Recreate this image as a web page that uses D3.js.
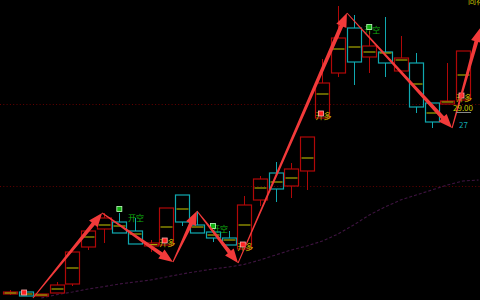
<!DOCTYPE html>
<meta charset="utf-8">
<style>
  body { margin: 0; background: #000; }
  svg { display: block; }
  .lbl { font-family: "Noto Sans CJK SC", sans-serif; font-size: 8px; }
</style>
<body>
<div id="chart"></div>
<script src="https://d3js.org/d3.v7.min.js"></script>
<script>
// candle data (one per bar, left to right)
var candleOpen  = [18.5, 18.6, 18.4, 18.55, 19.0, 20.85, 21.75, 22.1, 21.65, 20.9, 20.95, 23.45, 21.95, 21.6, 21.3,
                   20.75, 23.2, 24.55, 23.9, 24.65, 27.3, 29.55, 31.8, 30.35, 30.6, 29.65, 30.05, 28.05, 28.0, 28.2];
var candleClose = [18.6, 18.4, 18.5, 18.95, 20.6, 21.65, 22.3, 21.55, 21.0, 21.05, 22.8, 22.1, 21.55, 21.3, 20.95,
                   22.95, 24.25, 23.75, 24.75, 26.35, 29.05, 31.3, 30.1, 30.9, 30.05, 30.3, 27.85, 27.1, 28.15, 30.65];
var candleHigh  = [18.7, 18.6, 18.5, 19.1, 20.6, 21.65, 22.55, 22.55, 22.3, 21.2, 22.8, 23.45, 22.65, 21.7, 21.65,
                   23.4, 24.4, 25.1, 25.05, 26.35, 30.25, 32.9, 32.45, 31.65, 32.35, 31.4, 30.55, 28.05, 30.05, 30.65];
var candleLow   = [18.45, 18.4, 18.4, 18.55, 18.9, 20.7, 21.05, 21.55, 21.0, 20.6, 20.95, 21.9, 21.55, 21.1, 20.95,
                   20.75, 22.9, 23.1, 23.3, 23.7, 27.3, 29.35, 28.95, 29.55, 29.35, 29.65, 27.55, 26.8, 28.0, 28.2];
var candleMid   = [18.55, 18.5, 18.45, 18.75, 19.8, 21.35, 21.95, 21.9, 21.5, 20.97, 21.85, 22.75, 21.85, 21.45, 21.2,
                   21.95, 23.8, 24.1, 24.3, 25.3, 28.5, 30.75, 30.85, 30.6, 30.55, 30.2, 29.0, 27.55, 28.1, 29.45];

// moving average, starts at bar 2 (last point runs past the final bar)
var maStart = 2;
var maValues = [18.3, 18.47, 18.6, 18.75, 18.87, 19.0, 19.1, 19.2, 19.35, 19.5, 19.63, 19.75, 19.85, 19.98,
                20.2, 20.45, 20.7, 20.9, 21.15, 21.5, 21.95, 22.45, 22.85, 23.2, 23.45, 23.7, 23.95, 24.15, 24.2];

// zigzag pivots (bar index, price)
var pivotIdx   = [1.47, 5.9, 10.43, 11.97, 14.6, 21.57, 28.3, 30.1];
var pivotPrice = [18.3, 22.55, 20.1, 22.65, 20.05, 32.55, 26.8, 31.8];

// signals
var longText  = [10, 15, 20, 29];   // 开多
var longMark  = [1, 10, 15, 20, 29];
var shortMark = [7, 13, 23];        // 开空 dots
var shortText = [8, 13, 23];

var gridLevels = [28.0, 23.9];

var width = 480, height = 300;

var svg = d3.select("#chart").append("svg")
    .attr("width", width)
    .attr("height", height);

svg.append("rect").attr("width", width).attr("height", height).attr("fill", "#000");

var x = d3.scaleLinear().domain([0, 29]).range([10, 463]);
var y = d3.scaleLinear().domain([18.2, 33.2]).range([300, 0]);
var bw = 14;

// grid lines
svg.selectAll(".grid")
    .data(gridLevels)
  .enter().append("line")
    .attr("x1", 0).attr("x2", width)
    .attr("y1", function(d) { return Math.round(y(d)) + 0.5; })
    .attr("y2", function(d) { return Math.round(y(d)) + 0.5; })
    .attr("stroke", "#640000")
    .attr("stroke-dasharray", "1,2.3");

// moving average
var ma = d3.line()
    .x(function(d, i) { return x(i + maStart); })
    .y(function(d) { return y(d); });

svg.append("path")
    .datum(maValues)
    .attr("d", ma)
    .attr("fill", "none")
    .attr("stroke", "#3e1440")
    .attr("stroke-width", 1.1)
    .attr("stroke-dasharray", "3,2");

// candles
var bars = d3.range(candleOpen.length);
var up = function(i) { return candleClose[i] >= candleOpen[i]; };
var col = function(i) { return up(i) ? "#b00808" : "#10a8b0"; };

var g = svg.append("g");

bars.forEach(function(i) {
  var cx = Math.round(x(i)) + 0.5;
  var top = y(Math.max(candleOpen[i], candleClose[i]));
  var bot = y(Math.min(candleOpen[i], candleClose[i]));
  g.append("line")
      .attr("x1", cx).attr("x2", cx)
      .attr("y1", y(candleHigh[i])).attr("y2", top)
      .attr("stroke", col(i));
  g.append("line")
      .attr("x1", cx).attr("x2", cx)
      .attr("y1", bot).attr("y2", y(candleLow[i]))
      .attr("stroke", col(i));
  g.append("rect")
      .attr("x", cx - bw / 2).attr("y", top)
      .attr("width", bw).attr("height", Math.max(bot - top, 1))
      .attr("fill", "none")
      .attr("stroke", col(i))
      .attr("stroke-width", 1.2);
  g.append("line")
      .attr("x1", cx - bw / 2 + 1).attr("x2", cx + bw / 2 - 1)
      .attr("y1", y(candleMid[i])).attr("y2", y(candleMid[i]))
      .attr("stroke", "#a8a800")
      .attr("stroke-width", 1.2);
});

// signal labels
longText.forEach(function(i) {
  svg.append("text")
      .attr("class", "lbl")
      .attr("x", x(i) - 7)
      .attr("y", y(candleLow[i]) + 1)
      .attr("fill", "#c8b400")
      .text("开多");
});
longMark.forEach(function(i) {
  svg.append("rect")
      .attr("x", x(i) - 4).attr("y", y(candleLow[i]) - (i === 1 ? 6 : 7))
      .attr("width", 5).attr("height", 5)
      .attr("fill", "#ff2020")
      .attr("stroke", "#ffb0b0")
      .attr("stroke-width", 0.8);
});

var shortOff = {8: [-7, 3], 13: [-1, 2], 23: [-5, 2]};
shortText.forEach(function(i) {
  svg.append("text")
      .attr("class", "lbl")
      .attr("x", x(i) + shortOff[i][0])
      .attr("y", y(candleHigh[i]) + shortOff[i][1])
      .attr("fill", "#10b010")
      .text("开空");
});
shortMark.forEach(function(i) {
  svg.append("rect")
      .attr("x", x(i) - 2.5).attr("y", y(candleHigh[i]) - 6.5)
      .attr("width", 5).attr("height", 5)
      .attr("fill", "#10b010")
      .attr("stroke", "#c0ffc0")
      .attr("stroke-width", 0.8);
});

// zigzag arrows, tapered shaft with head
function arrowPath(x0, y0, x1, y1) {
  var dx = x1 - x0, dy = y1 - y0, L = Math.sqrt(dx * dx + dy * dy);
  var ux = dx / L, uy = dy / L, nx = -uy, ny = ux;
  var hl = 14, hw = 5.5, w0 = 0.5, w1 = 2;
  var bx = x1 - ux * hl, by = y1 - uy * hl;
  var pts = [
    [x0 + nx * w0, y0 + ny * w0],
    [bx + nx * w1, by + ny * w1],
    [bx + nx * hw, by + ny * hw],
    [x1, y1],
    [bx - nx * hw, by - ny * hw],
    [bx - nx * w1, by - ny * w1],
    [x0 - nx * w0, y0 - ny * w0]
  ];
  return "M" + pts.map(function(p) { return p[0] + "," + p[1]; }).join("L") + "Z";
}

var segs = d3.range(pivotIdx.length - 1);
svg.append("g").selectAll("path")
    .data(segs)
  .enter().append("path")
    .attr("d", function(k) {
      return arrowPath(x(pivotIdx[k]), y(pivotPrice[k]), x(pivotIdx[k + 1]), y(pivotPrice[k + 1]));
    })
    .attr("fill", "#f23a3a");

// corner texts
svg.append("text")
    .attr("class", "lbl")
    .attr("x", 468).attr("y", 4)
    .attr("fill", "#c8c800")
    .text("同花顺");

svg.append("text")
    .attr("class", "lbl")
    .attr("x", 453).attr("y", 111)
    .attr("fill", "#c8c800")
    .text("29.00");
svg.append("line")
    .attr("x1", 456).attr("x2", 471)
    .attr("y1", 112.5).attr("y2", 112.5)
    .attr("stroke", "#888");
svg.append("text")
    .attr("class", "lbl")
    .attr("x", 459).attr("y", 128)
    .attr("fill", "#10a8b0")
    .text("27");
</script>
</body>
